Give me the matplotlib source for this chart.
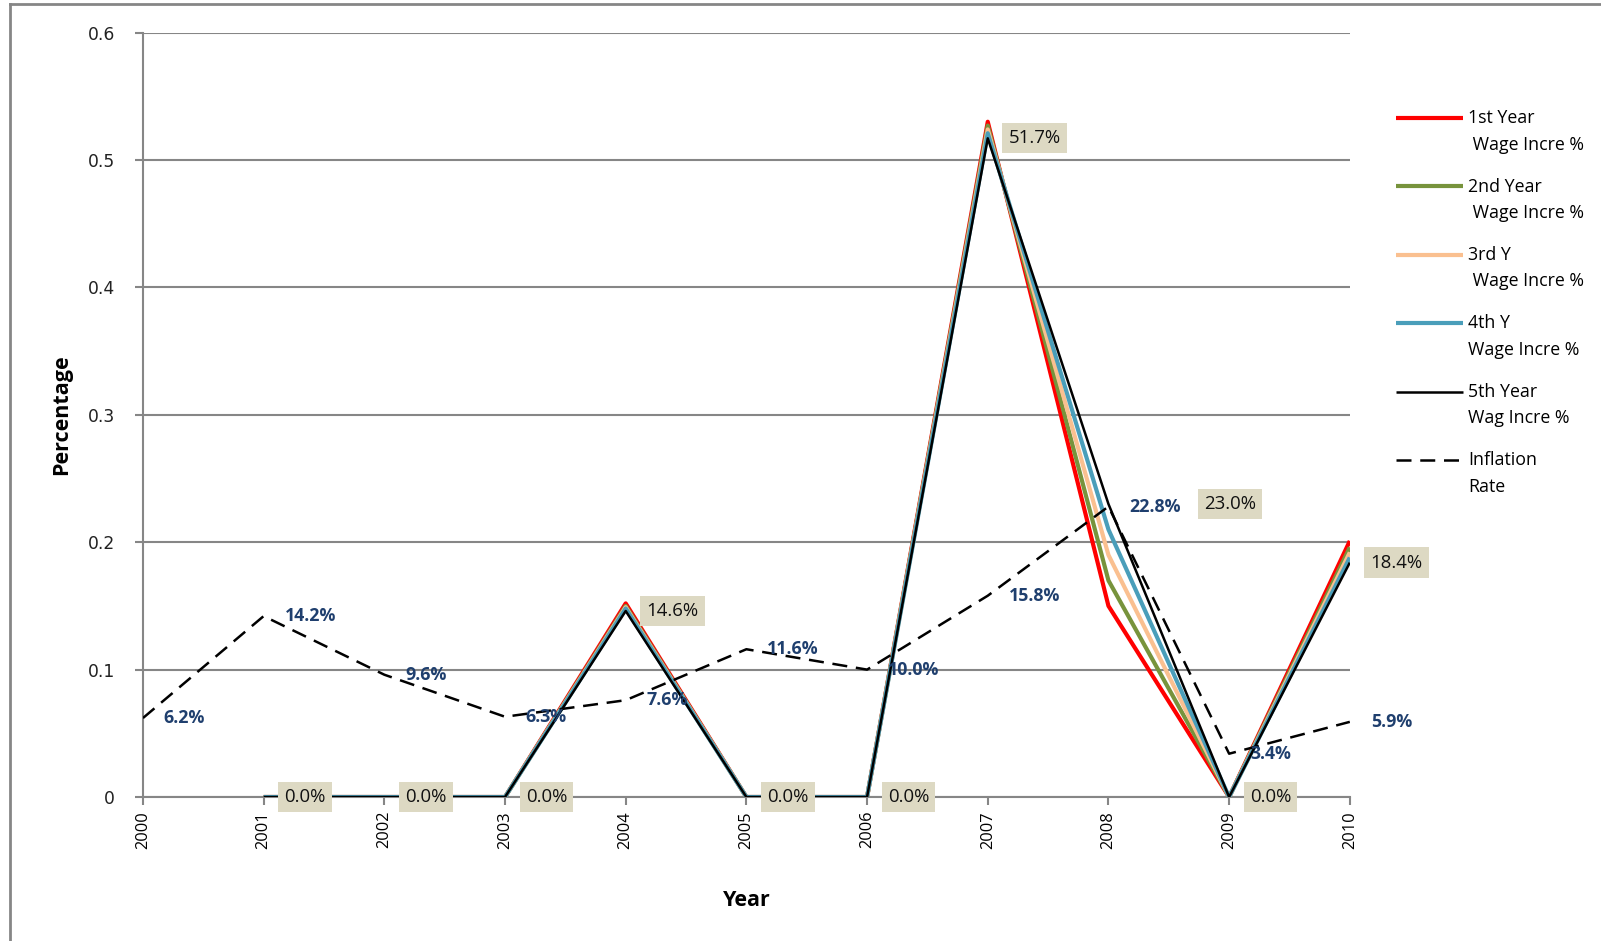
import matplotlib
matplotlib.use('Agg')
import matplotlib.pyplot as plt
from matplotlib.lines import Line2D
from matplotlib.legend_handler import HandlerLine2D
import numpy as np

# ── Data ──────────────────────────────────────────────────────────────────────
years = [2000, 2001, 2002, 2003, 2004, 2005, 2006, 2007, 2008, 2009, 2010]
wage_years = years[1:]
wage_1st = [0.0, 0.0, 0.0, 0.152, 0.0, 0.0, 0.530, 0.150, 0.0, 0.201]
wage_2nd = [0.0, 0.0, 0.0, 0.150, 0.0, 0.0, 0.527, 0.170, 0.0, 0.196]
wage_3rd = [0.0, 0.0, 0.0, 0.149, 0.0, 0.0, 0.524, 0.190, 0.0, 0.192]
wage_4th = [0.0, 0.0, 0.0, 0.148, 0.0, 0.0, 0.521, 0.210, 0.0, 0.188]
wage_5th = [0.0, 0.0, 0.0, 0.146, 0.0, 0.0, 0.517, 0.230, 0.0, 0.184]
inflation = [0.062, 0.142, 0.096, 0.063, 0.076, 0.116, 0.100, 0.158, 0.228, 0.034, 0.059]

series_labels = ['1st Year\n Wage Incre %', '2nd Year\n Wage Incre %',
                 '3rd Y\n Wage Incre %', '4th Y\nWage Incre %',
                 '5th Year\nWag Incre %', 'Inflation\nRate']

# ── Style ─────────────────────────────────────────────────────────────────────
GRID = '#868686'
LBL_BLUE = '#1F3F6E'
BOX = '#DDD9C3'
wage_colors = ['#FF0000', '#77933C', '#FAC090', '#4A9EBA', '#000000']
wage_lw = [3.0, 3.0, 3.0, 3.0, 1.8]
FONT = ['Open Sans', 'DejaVu Sans']


class TopLine(HandlerLine2D):
    # put the legend line level with the first text line (Excel style)
    def create_artists(self, legend, orig_handle, xdescent, ydescent,
                       width, height, fontsize, trans):
        arts = super().create_artists(legend, orig_handle, xdescent, ydescent,
                                      width, height, fontsize, trans)
        for a in arts:
            a.set_ydata(np.asarray(a.get_ydata()) + 0.8 * fontsize)
        return arts


fig = plt.figure(figsize=(16.01, 9.41), dpi=100)
ax = fig.add_axes([0.0893, 0.153, 0.7538, 0.8124])

wage_series = [wage_1st, wage_2nd, wage_3rd, wage_4th, wage_5th]
handles = []
for i, (vals, c, lw) in enumerate(zip(wage_series, wage_colors, wage_lw)):
    h, = ax.plot(wage_years, vals, color=c, lw=lw, zorder=3 + i,
                 solid_joinstyle='round', solid_capstyle='butt')
    handles.append(h)
h_inf, = ax.plot(years, inflation, color='black', lw=1.8, zorder=9,
                 dashes=(6, 3.5))
handles.append(h_inf)

# 5th year labels in beige boxes
box_offsets = {2007: 15, 2008: 69}
for x, v in zip(wage_years, wage_5th):
    ax.annotate(f'{v*100:.1f}%', xy=(x, v), xytext=(box_offsets.get(x, 15), 0),
                textcoords='offset points', ha='left', va='center',
                fontsize=13.4, family=FONT, color='#111111', zorder=12,
                bbox=dict(boxstyle='square,pad=0.33', fc=BOX, ec='none'))

# inflation labels
for x, v in zip(years, inflation):
    ax.annotate(f'{v*100:.1f}%', xy=(x, v), xytext=(15, 0),
                textcoords='offset points', ha='left', va='center',
                fontsize=12.8, family=FONT, fontweight='bold',
                color=LBL_BLUE, zorder=11)

# ── Axes ──────────────────────────────────────────────────────────────────────
ax.set_xlim(2000, 2010)
ax.set_ylim(0, 0.6)
ax.set_xticks(years)
ax.set_xticklabels([str(y) for y in years], rotation=90, fontsize=11.8,
                   family=FONT)
ax.set_yticks(np.arange(0, 0.61, 0.1))
ax.set_yticklabels(['0', '0.1', '0.2', '0.3', '0.4', '0.5', '0.6'],
                   fontsize=12.3, family='DejaVu Sans', color='#222222')
ax.yaxis.grid(True, color=GRID, lw=1.5)
ax.set_axisbelow(True)
for s in ['top', 'right']:
    ax.spines[s].set_visible(False)
for s in ['left', 'bottom']:
    ax.spines[s].set_color(GRID)
    ax.spines[s].set_linewidth(1.5)
ax.tick_params(axis='both', color=GRID, width=1.5, length=6)
ax.tick_params(axis='y', pad=14)
ax.tick_params(axis='x', pad=4)

ax.set_xlabel('Year', fontsize=15.5, fontweight='bold', family=FONT, labelpad=30)
ax.set_ylabel('Percentage', fontsize=15.5, fontweight='bold', family=FONT,
              labelpad=11)

leg = fig.legend(handles, series_labels, loc='upper left',
                 bbox_to_anchor=(0.862, 0.901), frameon=False,
                 prop={'family': FONT, 'size': 12.8}, handlelength=3.75,
                 handletextpad=0.3, labelspacing=1.35,
                 handler_map={Line2D: TopLine()})
for t in leg.get_texts():
    t.set_linespacing(1.6)
for lh, lw in zip(leg.get_lines(), wage_lw + [1.8]):
    lh.set_linewidth(lw)

# outer frame of the chart area
fig.add_artist(Line2D([10 / 1568, 10 / 1568], [0, 1 - 4 / 922],
                      transform=fig.transFigure, color=GRID, lw=2))
fig.add_artist(Line2D([10 / 1568, 1], [1 - 4 / 922, 1 - 4 / 922],
                      transform=fig.transFigure, color=GRID, lw=2))

fig.savefig('out.png', dpi=100, facecolor='white')
